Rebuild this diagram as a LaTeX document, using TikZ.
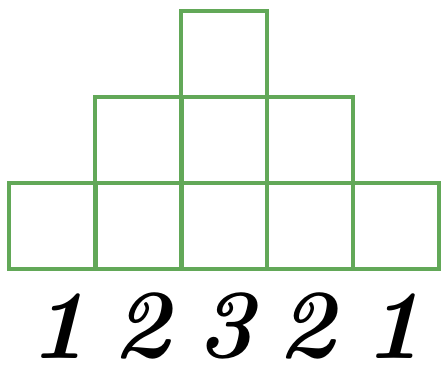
\documentclass[tikz,border=0pt]{standalone}
\usepackage{fontspec}
\definecolor{boxgreen}{RGB}{98,168,88}
\begin{document}
\begin{tikzpicture}[x=1pt,y=-1pt,
  cell/.style={draw=boxgreen,line width=4pt,minimum size=86.5pt,inner sep=0pt,outer sep=0pt},
  digit/.style={font=\fontsize{98}{98}\selectfont\bfseries\itshape,inner sep=0pt,anchor=center}]
\useasboundingbox[fill=white] (0,0) rectangle (442,367);
% bottom row
\node[cell] (b1) at (52.3,226) {};
\node[cell] (b2) at (138.5,226) {};
\node[cell] (b3) at (224,226) {};
\node[cell] (b4) at (310,226) {};
\node[cell] (b5) at (396,226) {};
% middle row
\node[cell] (m1) at (138.5,140) {};
\node[cell] (m2) at (224,140) {};
\node[cell] (m3) at (310,140) {};
% top
\node[cell] (t1) at (224,54) {};
% digits
\node[digit] (d1) at (58,326) {1};
\node[digit] (d2) at (141,326) {2};
\node[digit] (d3) at (225,326) {3};
\node[digit] (d4) at (306,326) {2};
\node[digit] (d5) at (393,326) {1};
\end{tikzpicture}
\end{document}
